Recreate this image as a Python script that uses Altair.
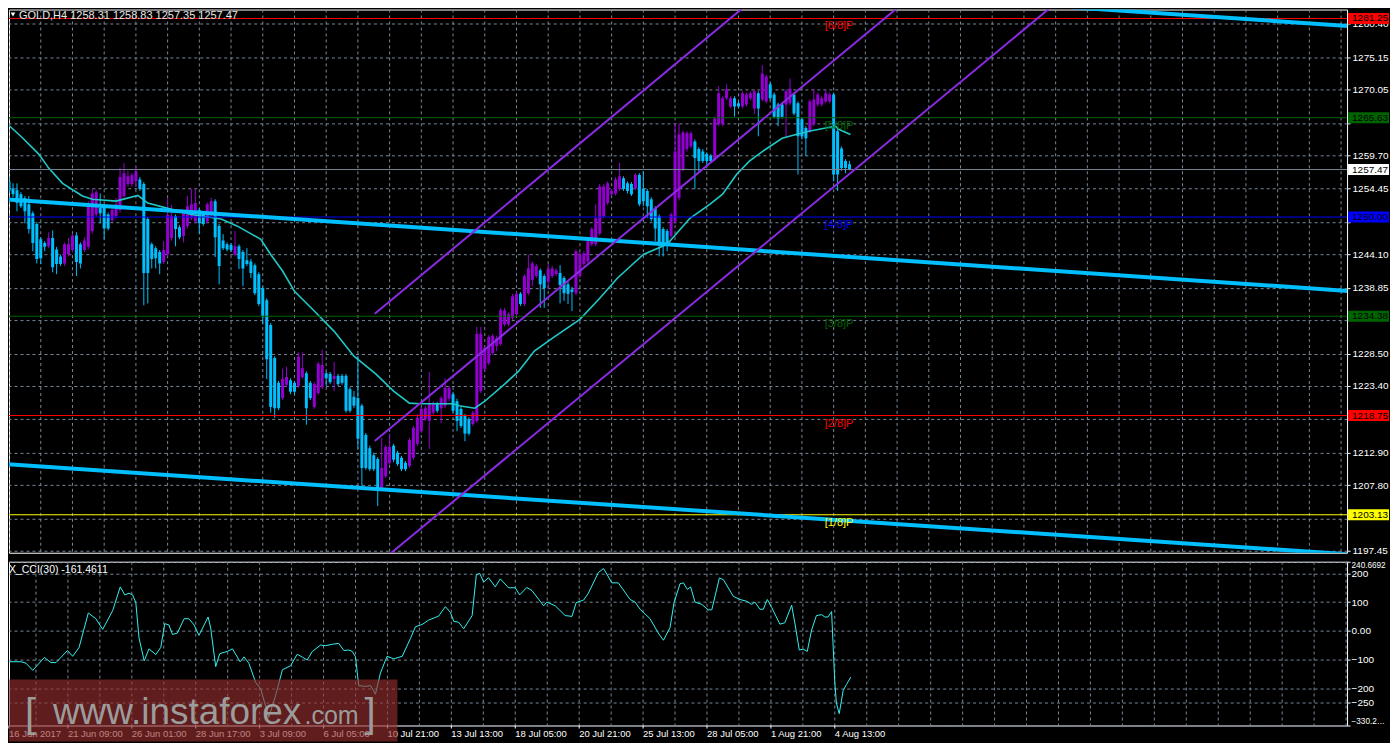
import altair as alt
import pandas as pd

# ---------------- data ----------------
bar_open = [
    1255.6, 1254.5, 1254.2, 1253.6, 1253.0, 1252.0, 1250.6, 1248.9, 1246.5, 1245.9,
    1245.4, 1246.7, 1244.9, 1243.8, 1242.7, 1244.1, 1244.8, 1247.1, 1245.7, 1244.8,
    1245.3, 1247.8, 1250.4, 1251.4, 1251.4, 1250.4, 1249.5, 1250.1, 1251.1, 1253.3,
    1255.2, 1255.2, 1255.6, 1255.9, 1255.2, 1249.7, 1245.7, 1245.1, 1244.5, 1242.9,
    1244.1, 1246.7, 1250.1, 1248.4, 1247.0, 1248.6, 1249.8, 1249.3, 1251.1, 1250.6,
    1249.3, 1250.4, 1252.5, 1248.6, 1246.3, 1245.7, 1245.6, 1244.1, 1245.4, 1244.5,
    1243.2, 1243.0, 1242.4, 1241.0, 1238.8, 1236.9, 1233.0, 1227.8, 1223.9, 1221.5,
    1223.6, 1224.3, 1223.9, 1223.4, 1224.8, 1225.4, 1223.9, 1220.1, 1222.3, 1223.2,
    1225.4, 1225.3, 1224.5, 1225.0, 1225.0, 1225.0, 1222.9, 1221.7, 1221.5, 1220.3,
    1215.7, 1213.6, 1212.5, 1211.9, 1207.2, 1209.2, 1211.3, 1214.0, 1212.9, 1212.1,
    1211.3, 1210.8, 1212.1, 1214.3, 1216.3, 1218.2, 1217.9, 1219.2, 1220.6, 1219.9,
    1220.3, 1221.4, 1222.1, 1221.0, 1219.8, 1218.7, 1218.2, 1217.4, 1217.9, 1222.6,
    1226.1, 1227.0, 1228.6, 1229.7, 1230.0, 1233.1, 1233.1, 1234.1, 1234.7, 1237.9,
    1236.3, 1238.0, 1240.1, 1240.7, 1241.6, 1240.7, 1239.8, 1240.7, 1241.0, 1241.2,
    1240.4, 1239.4, 1238.6, 1238.0, 1240.7, 1242.6, 1243.0, 1245.7, 1245.7, 1247.4,
    1250.1, 1252.2, 1253.6, 1253.7, 1254.4, 1256.1, 1255.3, 1255.2, 1254.5, 1256.6,
    1254.5, 1254.1, 1252.8, 1251.4, 1250.1, 1248.1, 1247.8, 1247.0, 1249.3, 1253.0,
    1257.5, 1260.7, 1261.1, 1261.9, 1260.7, 1260.3, 1259.9, 1259.6, 1259.1, 1264.6,
    1264.6, 1268.7, 1267.4, 1268.7, 1267.9, 1267.4, 1267.7, 1268.7, 1267.1, 1269.5,
    1268.5, 1268.2, 1270.9, 1269.3, 1267.7, 1267.7, 1267.7, 1267.9, 1269.3, 1267.9,
    1265.4, 1264.0, 1263.5, 1264.6, 1267.7, 1267.7, 1268.2, 1268.2, 1269.3, 1263.5,
    1260.8, 1258.8, 1258.31,
]
bar_high = [
    1256.4, 1255.3, 1255.3, 1253.9, 1253.3, 1253.3, 1250.9, 1249.2, 1246.8, 1246.2,
    1247.6, 1247.9, 1245.3, 1244.1, 1246.0, 1246.7, 1247.4, 1247.6, 1246.0, 1246.8,
    1252.5, 1254.5, 1254.2, 1253.7, 1251.7, 1250.7, 1251.4, 1253.0, 1257.8, 1258.5,
    1257.2, 1256.9, 1258.0, 1256.3, 1255.5, 1250.0, 1246.0, 1245.4, 1244.8, 1246.2,
    1253.0, 1251.9, 1250.4, 1248.7, 1250.9, 1253.3, 1254.4, 1254.5, 1251.4, 1250.9,
    1252.3, 1253.0, 1252.8, 1248.9, 1247.3, 1246.0, 1245.9, 1247.8, 1245.7, 1244.8,
    1245.1, 1243.4, 1242.7, 1241.3, 1239.1, 1237.2, 1233.3, 1228.1, 1224.2, 1226.1,
    1226.4, 1224.6, 1224.2, 1228.7, 1228.7, 1225.7, 1224.2, 1224.0, 1227.2, 1229.1,
    1225.7, 1225.6, 1227.2, 1225.3, 1225.3, 1225.3, 1223.2, 1222.6, 1228.1, 1220.6,
    1216.0, 1214.0, 1212.9, 1212.2, 1215.2, 1214.1, 1215.9, 1214.3, 1213.2, 1212.4,
    1211.6, 1215.2, 1217.1, 1219.0, 1220.1, 1220.3, 1225.6, 1221.0, 1220.9, 1221.8,
    1224.6, 1223.4, 1222.5, 1221.4, 1220.1, 1219.0, 1218.5, 1219.5, 1232.7, 1232.7,
    1229.7, 1231.4, 1231.6, 1231.3, 1235.7, 1235.7, 1235.0, 1237.9, 1238.2, 1238.2,
    1241.0, 1244.1, 1243.0, 1242.6, 1241.9, 1241.0, 1242.6, 1242.3, 1241.9, 1242.4,
    1240.7, 1239.8, 1239.0, 1244.9, 1244.5, 1244.6, 1246.5, 1248.4, 1252.0, 1255.2,
    1255.2, 1255.6, 1254.4, 1256.3, 1258.5, 1256.4, 1255.6, 1255.5, 1256.9, 1256.9,
    1257.2, 1254.4, 1253.1, 1251.7, 1250.4, 1248.4, 1248.1, 1250.7, 1264.7, 1264.7,
    1263.6, 1263.5, 1263.5, 1262.2, 1261.0, 1260.7, 1260.2, 1259.9, 1265.8, 1270.6,
    1269.0, 1270.9, 1269.0, 1269.0, 1268.2, 1269.8, 1269.6, 1269.8, 1270.1, 1269.8,
    1273.9, 1272.4, 1271.2, 1269.6, 1268.0, 1268.0, 1270.1, 1271.8, 1269.6, 1268.2,
    1265.7, 1264.3, 1268.5, 1270.2, 1269.6, 1269.0, 1270.1, 1269.6, 1269.6, 1263.8,
    1261.1, 1259.1, 1258.83,
]
bar_low = [
    1253.7, 1253.1, 1250.9, 1251.4, 1249.0, 1247.4, 1244.6, 1242.7, 1242.6, 1244.6,
    1245.1, 1241.3, 1241.0, 1242.3, 1242.3, 1243.8, 1244.5, 1240.7, 1241.9, 1244.5,
    1244.9, 1247.4, 1250.1, 1249.0, 1246.5, 1247.9, 1249.2, 1249.8, 1250.7, 1253.0,
    1254.8, 1254.8, 1254.7, 1254.1, 1236.1, 1236.4, 1241.9, 1241.9, 1241.0, 1242.6,
    1243.8, 1246.3, 1245.4, 1246.5, 1246.0, 1248.2, 1249.5, 1249.0, 1247.3, 1248.6,
    1249.0, 1250.1, 1243.7, 1239.4, 1244.8, 1244.6, 1244.5, 1243.8, 1241.8, 1239.1,
    1242.3, 1240.4, 1237.7, 1236.0, 1233.1, 1224.5, 1219.2, 1218.4, 1219.6, 1221.2,
    1223.2, 1222.1, 1222.1, 1223.1, 1224.5, 1217.3, 1221.2, 1219.8, 1222.0, 1222.9,
    1223.4, 1223.7, 1222.6, 1223.4, 1223.6, 1219.2, 1219.2, 1219.9, 1213.5, 1207.7,
    1210.2, 1210.0, 1210.0, 1204.5, 1206.9, 1208.9, 1211.0, 1211.4, 1210.8, 1210.0,
    1210.0, 1210.5, 1211.8, 1214.0, 1216.0, 1217.9, 1213.5, 1218.9, 1219.2, 1217.6,
    1219.9, 1221.0, 1219.2, 1216.3, 1216.8, 1214.7, 1215.6, 1217.1, 1217.6, 1222.3,
    1225.7, 1226.7, 1228.3, 1228.9, 1229.7, 1232.8, 1232.8, 1233.8, 1234.4, 1236.0,
    1236.0, 1237.7, 1239.1, 1240.4, 1235.7, 1235.7, 1238.6, 1240.4, 1240.7, 1236.4,
    1236.8, 1236.3, 1235.2, 1237.7, 1240.4, 1242.3, 1242.7, 1245.4, 1245.4, 1247.1,
    1249.8, 1251.9, 1253.3, 1253.4, 1254.1, 1254.1, 1253.7, 1253.3, 1254.2, 1251.7,
    1251.7, 1249.8, 1249.3, 1246.2, 1243.8, 1243.8, 1244.6, 1246.7, 1249.0, 1252.6,
    1257.2, 1260.3, 1260.8, 1254.4, 1257.2, 1258.5, 1258.0, 1258.5, 1258.8, 1264.3,
    1264.3, 1268.4, 1267.1, 1265.8, 1267.1, 1267.1, 1267.4, 1268.4, 1266.2, 1262.7,
    1268.2, 1267.9, 1268.4, 1265.5, 1264.3, 1265.5, 1262.7, 1267.6, 1266.0, 1256.7,
    1262.2, 1259.6, 1263.2, 1264.3, 1267.4, 1267.4, 1267.9, 1267.9, 1255.6, 1254.1,
    1257.3, 1256.9, 1257.35,
]
bar_close = [
    1254.1, 1253.6, 1252.2, 1251.7, 1250.9, 1248.1, 1245.9, 1243.4, 1243.5, 1245.3,
    1246.7, 1242.1, 1242.6, 1242.6, 1245.7, 1245.7, 1247.1, 1242.9, 1242.7, 1246.3,
    1252.0, 1253.7, 1253.9, 1250.6, 1248.2, 1248.2, 1251.1, 1252.0, 1256.3, 1256.9,
    1256.4, 1256.6, 1257.2, 1254.4, 1241.2, 1241.2, 1243.4, 1243.5, 1242.7, 1244.8,
    1250.3, 1250.1, 1248.1, 1246.8, 1250.6, 1251.7, 1252.0, 1252.2, 1249.0, 1248.9,
    1252.0, 1252.5, 1246.8, 1242.3, 1245.1, 1244.9, 1244.8, 1245.4, 1243.4, 1241.9,
    1242.6, 1241.2, 1238.0, 1236.3, 1234.4, 1227.6, 1220.1, 1219.9, 1219.9, 1224.5,
    1224.8, 1222.5, 1222.5, 1228.0, 1226.2, 1219.9, 1221.5, 1223.7, 1226.9, 1226.7,
    1224.6, 1224.0, 1225.0, 1223.7, 1223.9, 1219.5, 1219.5, 1220.3, 1215.1, 1210.5,
    1210.5, 1210.3, 1210.3, 1207.2, 1210.5, 1213.8, 1213.8, 1211.8, 1211.1, 1210.3,
    1210.3, 1214.9, 1216.8, 1218.4, 1219.8, 1219.9, 1220.7, 1220.7, 1219.5, 1221.5,
    1223.1, 1223.1, 1219.5, 1217.9, 1217.1, 1215.9, 1215.9, 1219.2, 1231.6, 1231.6,
    1229.4, 1231.1, 1231.3, 1230.9, 1235.3, 1235.3, 1234.7, 1237.5, 1237.9, 1236.3,
    1240.7, 1241.9, 1242.7, 1242.3, 1239.4, 1238.8, 1241.8, 1241.9, 1241.6, 1239.3,
    1238.0, 1237.9, 1238.2, 1244.6, 1244.1, 1244.3, 1246.2, 1248.1, 1249.8, 1254.8,
    1254.8, 1255.3, 1254.1, 1255.9, 1256.4, 1254.4, 1254.1, 1253.6, 1256.6, 1252.0,
    1252.5, 1251.7, 1249.7, 1248.2, 1245.9, 1245.9, 1245.9, 1250.4, 1260.3, 1263.0,
    1263.3, 1263.2, 1263.2, 1259.3, 1258.8, 1258.8, 1258.8, 1258.8, 1265.5, 1269.5,
    1268.7, 1270.1, 1268.7, 1267.4, 1267.4, 1269.5, 1269.3, 1269.5, 1269.8, 1267.1,
    1272.6, 1272.1, 1268.7, 1265.8, 1265.5, 1265.8, 1269.8, 1270.2, 1266.3, 1262.7,
    1262.7, 1262.4, 1268.2, 1268.5, 1269.3, 1268.7, 1269.5, 1269.3, 1256.7, 1256.7,
    1257.7, 1257.7, 1257.47,
]

# moving average (read at bar positions)
ma_bar = [0, 3.5, 7.5, 10, 13.5, 18.5, 21, 27, 32.5, 35, 41, 46, 53.5, 57.5, 63.5, 66, 69, 72,
          77, 82, 87, 92.5, 97, 101, 103.5, 112, 113.5, 117.5, 120, 125, 128.5, 132.5, 137, 144,
          149, 153.5, 160, 166, 171.75, 176.75, 180, 183.5, 186.75, 190, 195, 198.5, 201.75,
          206, 208.5, 209.25, 212.25]
ma_val = [1264.4, 1262.4, 1259.9, 1257.7, 1255.3, 1253.3, 1252.8, 1252.5, 1253.4, 1252.2,
          1251.2, 1250.4, 1249.7, 1248.6, 1246.5, 1244.1, 1241.5, 1238.3, 1235.2, 1232.0,
          1228.1, 1225.3, 1222.6, 1220.7, 1220.6, 1220.6, 1220.3, 1219.9, 1221.0, 1223.7,
          1225.7, 1228.9, 1230.9, 1233.9, 1237.2, 1240.4, 1244.1, 1245.7, 1249.8, 1252.0,
          1253.6, 1256.7, 1258.8, 1260.3, 1262.4, 1263.0, 1263.5, 1264.0, 1264.3, 1263.8,
          1263.0]

# CCI(30)
cci_bar = [0.1, 4.25, 5.5, 7.2, 10.1, 11.75, 13, 15.9, 17.2, 18.8, 21.1, 23, 24.7, 27.2, 29.1,
           30.25, 31.3, 32.2, 33, 33.8, 35.1, 36.3, 38, 39.25, 40.25, 41.3, 42.2, 43.4, 45.1,
           46.3, 47.6, 48.8, 51.1, 51.75, 53, 54, 55.9, 57.2, 59.1, 60.1, 61.3, 63, 64.25,
           66.3, 68, 69.7, 71.75, 73.4, 74.7, 75.9, 77.2, 79.25, 80.5, 82.2, 83.8, 85.1, 86.3,
           87.2, 88, 88.8, 90.5, 91.75, 93, 94.25, 95.9, 97.6, 99.7, 101.75, 103, 104.7, 106.3,
           108.8, 110.5, 111.75, 112.6, 113.8, 115.1, 117.2, 118.25, 119.1, 120.1, 121.3, 123,
           124.25, 126.3, 128, 129.1, 130.9, 132.2, 135.1, 135.9, 138, 140.5, 142.2, 143.25,
           145.1, 146.3, 148.8, 150.1, 152.2, 153.8, 156.75, 158, 159.25, 161.75, 163.8, 165.1,
           166.75, 167.75, 169.25, 170.1, 171.1, 171.9, 173, 174.7, 176.3, 177.2, 179.1, 180.1,
           182.6, 184.25, 185.9, 187.2, 188, 189.25, 190.1, 191.1, 192.2, 194.25, 195.5, 197.2,
           198, 199.1, 200.1, 201.1, 202.2, 203.4, 204.7, 205.5, 206.3, 207.2, 207.6, 208,
           208.4, 209.1, 210.1, 210.9, 212]
cci_val = [-108, -108, -113, -138, -93, -111, -111, -69, -89, -58, 62, 42, 5, 70, 153,
           125, 131, 125, 98, -25, -105, -63, -83, -58, 25, 20, -13, -8, 42,
           42, 20, -16, 48, 9, -125, -80, -72, -63, -108, -91, -113, -180, -202,
           -302, -225, -136, -122, -82, -92, -102, -72, -50, -52, -47, -44, -69, -67,
           -72, -91, -191, -194, -191, -221, -147, -89, -98, -89, -27, 14, 22, 37,
           51, 84, 64, 33, 30, 7, 53, 195, 200, 170, 185, 153,
           181, 150, 150, 125, 151, 140, 87, 100, 87, 53, 50, 98,
           107, 131, 203, 217, 167, 167, 109, 100, 75, 42, -8, -33,
           11, 98, 164, 167, 144, 153, 100, 92, 73, 73, 184, 178,
           120, 109, 103, 92, 100, 75, 75, 109, 81, 23, 28, 89,
           27, -67, -64, -72, 3, 53, 56, 48, 48, 67, -58, -180,
           -252, -289, -208, -188, -161.46]

# trend lines (bar index, price at each end)
trend_names = ["top", "top", "middle", "middle", "bottom", "bottom"]
trend_bars = [250, 340, -1, 340, -1, 340]
trend_prices = [1283.76, 1279.99, 1252.79, 1238.27, 1211.11, 1196.80]

channel_names = ["upper", "upper", "mid", "mid", "lower", "lower"]
channel_bars = [92.25, 200, 92.25, 240, 92.25, 280]
channel_prices = [1234.76, 1290.63, 1214.75, 1291.15, 1194.98, 1291.90]

# Murrey levels
level_price = [1281.25, 1265.63, 1257.47, 1250.00, 1234.38, 1218.75, 1203.13]
level_line_col = ["#ff0000", "#006400", "#778899", "#0000ff", "#006400", "#ff0000", "#ffff00"]
level_box_col = ["#ff0000", "#006400", "#ffffff", "#0000ff", "#006400", "#ff0000", "#ffff00"]
murrey_label = ["[6/8]P", "[5/8]P", "[4/8]P", "[3/8]P", "[2/8]P", "[1/8]P"]
murrey_price = [1281.25, 1265.63, 1250.00, 1234.38, 1218.75, 1203.13]
murrey_col = ["#ff0000", "#006400", "#0000ff", "#006400", "#ff0000", "#ffff00"]
murrey_bar = [205.75] * 6

price_ticks = [1280.40, 1275.15, 1270.05, 1264.80, 1259.70, 1254.45, 1249.20, 1244.10,
               1238.85, 1233.75, 1228.50, 1223.40, 1218.15, 1212.90, 1207.80, 1202.55, 1197.45]
covered_ticks = [1264.80, 1249.20, 1233.75, 1218.15, 1202.55]
cci_ticks = [-330.2569, -250, -200, -100, 0, 100, 200, 240.6692]

date_bars = [0, 16, 32, 48, 64, 80, 96, 112, 128, 144, 160, 176, 192, 208]
date_text = ["16 Jun 2017", "21 Jun 09:00", "26 Jun 01:00", "28 Jun 17:00", "3 Jul 09:00",
             "6 Jul 05:00", "10 Jul 21:00", "13 Jul 13:00", "18 Jul 05:00", "20 Jul 21:00",
             "25 Jul 13:00", "28 Jul 05:00", "1 Aug 21:00", "4 Aug 13:00"]
grid_bars = list(range(0, 340, 8))

title_text = "GOLD,H4  1258.31 1258.83 1257.35 1257.47"
cci_title = "X_CCI(30) -161.4611"

# ---------------- styling ----------------
W = 1340
H_MAIN = 544
H_CCI = 164
FONT = "Liberation Sans"
PURPLE = "#9400d3"
SKY = "#00bfff"
GRID = "#778899"
MA_COL = "#20c8c8"
CCI_COL = "#33f0f0"
VIOLET = "#8a2be2"

xs = alt.Scale(domain=[1.25, 336.25], nice=False, zero=False)
ys = alt.Scale(domain=[1197.15, 1282.66], nice=False, zero=False)
cs = alt.Scale(domain=[-330.2569, 240.6692], nice=False, zero=False)

hidden = " || ".join(f"datum.value == {v}" for v in covered_ticks)
yaxis = alt.Axis(orient="right", values=price_ticks,
                 labelExpr=f"({hidden}) ? '' : format(datum.value, '.2f')",
                 labelColor="white", labelFont=FONT, labelFontSize=10, tickColor="white",
                 tickSize=3, labelPadding=2, domain=False, grid=True, gridColor=GRID,
                 gridDash=[3, 3], gridWidth=1, title=None, labelOverlap=False)
caxis = alt.Axis(orient="right", values=cci_ticks,
                 labelExpr="datum.value == 0 ? '0.00' : (datum.value % 1 != 0 ? format(datum.value, '.4f') : format(datum.value, 'd'))",
                 labelColor="white", labelFont=FONT,
                 labelFontSize={"condition": {"test": "datum.value % 1 != 0", "value": 8.2},
                                "value": 10},
                 tickColor="white", tickSize=3, labelPadding=1, domain=False, grid=True,
                 gridColor=GRID, gridDash=[3, 3], gridWidth=1, title=None,
                 labelOverlap=False, labelFlush=True, labelLimit=38)


def X(f):
    return alt.X(f"{f}:Q", scale=xs, axis=None)


def Y(f):
    return alt.Y(f"{f}:Q", scale=ys, axis=yaxis)


def C(f):
    return alt.Y(f"{f}:Q", scale=cs, axis=caxis)


candles = pd.DataFrame({"bar": list(range(len(bar_open))), "open": bar_open,
                        "high": bar_high, "low": bar_low, "close": bar_close})
ma_df = pd.DataFrame({"bar": ma_bar, "val": ma_val})
cci_df = pd.DataFrame({"bar": cci_bar, "val": cci_val})
trend_df = pd.DataFrame({"line": trend_names, "bar": trend_bars, "price": trend_prices})
chan_df = pd.DataFrame({"line": channel_names, "bar": channel_bars, "price": channel_prices})
lvl_df = pd.DataFrame({"price": level_price, "col": level_line_col, "box": level_box_col,
                       "txt": [f"{p:.2f}" for p in level_price]})
mur_df = pd.DataFrame({"bar": murrey_bar, "price": murrey_price, "label": murrey_label,
                       "col": murrey_col})
grid_df = pd.DataFrame({"bar": grid_bars})
date_df = pd.DataFrame({"bar": date_bars, "lab": date_text})
one = pd.DataFrame({"k": [0]})

bull = alt.datum.close >= alt.datum.open
candle_color = alt.when(bull).then(alt.value(PURPLE)).otherwise(alt.value(SKY))

vgrid = alt.Chart(grid_df).mark_rule(color=GRID, strokeDash=[3, 3], strokeWidth=1,
                                     clip=True).encode(x=X("bar"))
wicks = alt.Chart(candles).mark_rule(strokeWidth=1, clip=True).encode(
    x=X("bar"), y=Y("low"), y2=alt.Y2("high"), color=candle_color)
bodies = alt.Chart(candles).mark_bar(size=3, clip=True).encode(
    x=X("bar"), y=Y("open"), y2=alt.Y2("close"), color=candle_color)
ma_line = alt.Chart(ma_df).mark_line(color=MA_COL, strokeWidth=1.6, clip=True).encode(
    x=X("bar"), y=Y("val"))
levels = alt.Chart(lvl_df).mark_rule(strokeWidth=1).encode(
    y=Y("price"), color=alt.Color("col:N", scale=None))
trends = alt.Chart(trend_df).mark_line(color=SKY, strokeWidth=4, clip=True).encode(
    x=X("bar"), y=Y("price"), detail="line:N")
channels = alt.Chart(chan_df).mark_line(color=VIOLET, strokeWidth=2, clip=True).encode(
    x=X("bar"), y=Y("price"), detail="line:N")
murrey = alt.Chart(mur_df).mark_text(align="left", baseline="top", dy=2, font=FONT,
                                     fontSize=11).encode(
    x=X("bar"), y=Y("price"), text="label:N", color=alt.Color("col:N", scale=None))
boxes = alt.Chart(lvl_df).mark_rect(yOffset=-5.5, y2Offset=5.5).encode(
    x=alt.value(W + 1), x2=alt.value(W + 42), y=Y("price"), y2=alt.Y2("price"),
    color=alt.Color("box:N", scale=None))
box_txt = alt.Chart(lvl_df).mark_text(align="left", baseline="middle", font=FONT,
                                      fontSize=10, color="black").encode(
    x=alt.value(W + 5), y=Y("price"), text="txt:N")
tri = alt.Chart(one).mark_point(shape="triangle-down", filled=True, size=22, color="white",
                                opacity=1).encode(x=alt.value(4), y=alt.value(5))
title = alt.Chart(one).mark_text(align="left", baseline="top", font=FONT, fontSize=11,
                                 color="#e8e8e8").encode(
    x=alt.value(10), y=alt.value(0), text=alt.value(title_text))

main = alt.layer(vgrid, wicks, bodies, ma_line, levels, trends, channels, murrey,
                 boxes, box_txt, tri, title).properties(width=W, height=H_MAIN)

# ---- CCI panel ----
cgrid = alt.Chart(grid_df).mark_rule(color=GRID, strokeDash=[3, 3], strokeWidth=1,
                                     clip=True).encode(x=X("bar"))
date_lbl = alt.Chart(date_df).transform_calculate(xb="max(datum.bar, 1.25)").mark_text(
    align="left", baseline="middle", font=FONT, fontSize=9.5, color="white").encode(
    x=X("xb"), y=alt.value(H_CCI + 9), text="lab:N")
date_tick = alt.Chart(date_df).transform_calculate(xb="max(datum.bar, 1.25)").mark_rule(
    color="white").encode(x=X("xb"), y=alt.value(H_CCI), y2=alt.value(H_CCI + 3))
wm_rect = alt.Chart(one).mark_rect(color="#9a2f2f", opacity=0.62).encode(
    x=alt.value(0), x2=alt.value(389), y=alt.value(118), y2=alt.value(H_CCI + 16))
wm_open = alt.Chart(one).mark_text(align="left", baseline="alphabetic", font=FONT,
                                   fontSize=40, color="#9c9c9c").encode(
    x=alt.value(16), y=alt.value(166), text=alt.value("["))
wm_main = alt.Chart(one).mark_text(align="left", baseline="alphabetic", font=FONT,
                                   fontSize=37, color="#9c9c9c").encode(
    x=alt.value(44), y=alt.value(163), text=alt.value("www.instaforex"))
wm_com = alt.Chart(one).mark_text(align="left", baseline="alphabetic", font=FONT,
                                  fontSize=25, color="#9c9c9c").encode(
    x=alt.value(296), y=alt.value(163), text=alt.value(".com"))
wm_close = alt.Chart(one).mark_text(align="left", baseline="alphabetic", font=FONT,
                                    fontSize=40, color="#9c9c9c").encode(
    x=alt.value(356), y=alt.value(166), text=alt.value("]"))
cci_line = alt.Chart(cci_df).mark_line(color=CCI_COL, strokeWidth=1, clip=True).encode(
    x=X("bar"), y=C("val"))
cci_lbl = alt.Chart(one).mark_text(align="left", baseline="middle", font=FONT, fontSize=10.5,
                                   color="white").encode(
    x=alt.value(0), y=alt.value(8), text=alt.value(cci_title))

cci = alt.layer(cgrid, date_lbl, date_tick, cci_line, wm_rect, wm_open, wm_main, wm_com,
                wm_close, cci_lbl).properties(width=W, height=H_CCI)

chart = alt.vconcat(main, cci, spacing=3).properties(
    padding=0, background="black").configure_view(stroke="white", strokeWidth=1, fill="black")

chart.save("out.html", embed_options={"renderer": "svg", "actions": False})
